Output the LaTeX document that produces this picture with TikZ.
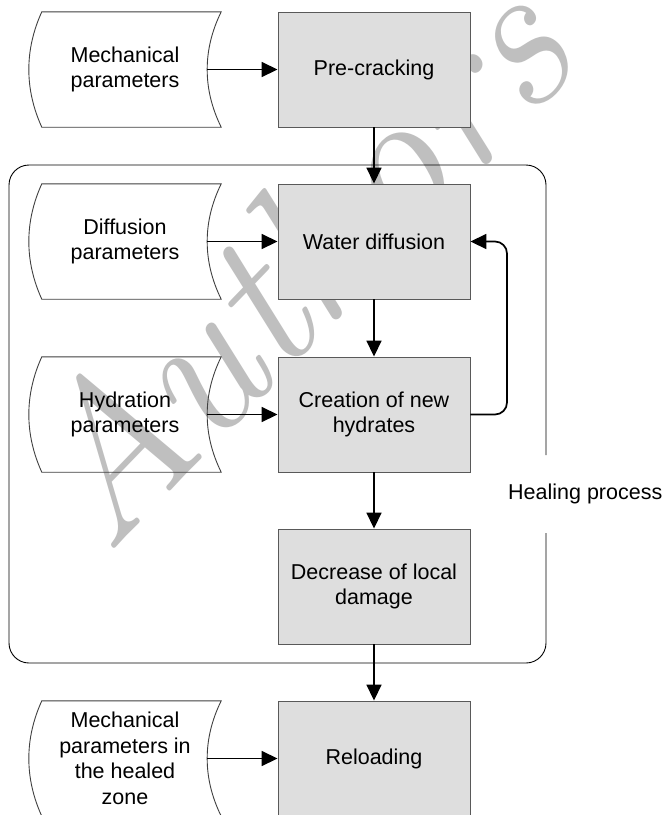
\documentclass[tikz,border=0pt]{standalone}
\usepackage{fontspec}
\setmainfont{Liberation Sans}
\newfontfamily\wmfont{Latin Modern Roman}
\usetikzlibrary{arrows.meta,calc}
\newcommand\datashape[1]{%
  \draw[dshape] ($(#1.north west)+(13,0)$) -- (#1.north east)
    .. controls ($(#1.north east)+(-18.7,38)$) and ($(#1.south east)+(-18.7,-38)$) .. (#1.south east)
    -- ($(#1.south west)+(13,0)$)
    .. controls ($(#1.south west)+(-4.3,-38)$) and ($(#1.north west)+(-4.3,38)$) .. ($(#1.north west)+(13,0)$) -- cycle;}
\begin{document}
\begin{tikzpicture}[x=1pt,y=-1pt,
  txt/.style={font=\fontsize{21.5}{25.5}\selectfont},
  proc/.style={txt,draw=black!65,line width=0.9pt,fill=black!13,minimum width=192pt,minimum height=115pt,inner sep=0pt,align=center},
  data/.style={txt,minimum width=192pt,minimum height=115pt,inner sep=0pt,align=center},
  dshape/.style={draw=black!75,line width=0.9pt},
  conn/.style={line width=1.7pt,-{Triangle[length=16pt,width=15pt]}},
  frame/.style={draw=black,line width=0.9pt,rounded corners=20pt},
]
\useasboundingbox (0,0) rectangle (663,815);
\clip (0,0) rectangle (663,815);
\fill[white] (0,0) rectangle (663,815);
% watermark
\node[rotate=46,anchor=base west,inner sep=0pt,text=black!25,font=\wmfont\itshape\fontsize{206}{206}\selectfont] (wm) at (106,558) {Authors};
% frame
\draw[frame] (546,455) -- (546,165) -- (9,165) -- (9,663) -- (546,663) -- (546,533);
\node[txt,anchor=west,inner sep=0pt] (heal) at (508,494) {Healing process};
% process boxes
\node[proc] (pre) at (374,69.5) {Pre-cracking};
\node[proc] (wat) at (374,241.5) {Water diffusion};
\node[proc] (cre) at (374,414.5) {Creation of new\\hydrates};
\node[proc] (dec) at (374,586.5) {Decrease of local\\damage};
\node[proc] (rel) at (374,758.5) {Reloading};
% data nodes
\node[data] (d1) at (125,69.5) {Mechanical\\parameters};
\node[data] (d2) at (125,241.5) {Diffusion\\parameters};
\node[data] (d3) at (125,414.5) {Hydration\\parameters};
\node[data] (d4) at (125,758.5) {Mechanical\\parameters in\\the healed\\zone};
\datashape{d1}
\datashape{d2}
\datashape{d3}
\datashape{d4}
% connectors
\draw[conn] ($(d1.east)+(-14,0)$) -- (pre.west);
\draw[conn] ($(d2.east)+(-14,0)$) -- (wat.west);
\draw[conn] ($(d3.east)+(-14,0)$) -- (cre.west);
\draw[conn] ($(d4.east)+(-14,0)$) -- (rel.west);
\draw[conn] (pre.south) -- (wat.north);
\draw[conn] (wat.south) -- (cre.north);
\draw[conn] (cre.south) -- (dec.north);
\draw[conn] (dec.south) -- (rel.north);
\coordinate (fb1) at (507,414.5);
\coordinate (fb2) at (507,241.5);
\draw[conn,rounded corners=12pt] (cre.east) -- (fb1) -- (fb2) -- (wat.east);
\end{tikzpicture}
\end{document}
